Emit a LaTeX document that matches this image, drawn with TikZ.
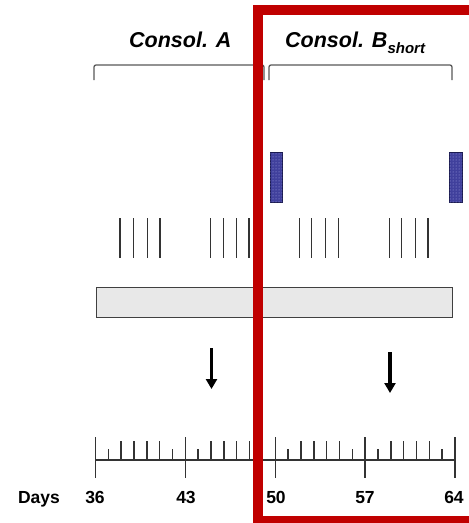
\documentclass[tikz,border=0pt]{standalone}
\usepackage{fontspec}
\setmainfont{Liberation Sans}
\usetikzlibrary{arrows.meta,patterns}
\definecolor{frame}{HTML}{C00000}
\definecolor{linegray}{HTML}{333333}
\definecolor{bargray}{HTML}{E8E8E8}
\definecolor{barline}{HTML}{404040}
\definecolor{bluefill}{HTML}{40409C}
\definecolor{blueline}{HTML}{1A1A50}
\definecolor{bluedot}{HTML}{A8A8E8}
\tikzset{
  titlefont/.style={font=\fontsize{21.5}{21.5}\selectfont\bfseries\itshape, inner sep=0pt},
  dayfont/.style={font=\fontsize{17.5}{17.5}\selectfont\bfseries, inner sep=0pt},
  bracket/.style={draw=gray!70!black, line width=1.3pt, rounded corners=2pt},
  pulse/.style={draw=linegray, line width=1.5pt},
  bluebar/.style={draw=blueline, line width=1pt, fill=bluefill, postaction={pattern=dots, pattern color=bluedot}},
  graybar/.style={draw=barline, line width=1.5pt, fill=bargray},
  axisline/.style={draw=linegray, line width=1.5pt},
  downarrow/.style={draw=black, line width=3.2pt, -{Triangle[length=10pt,width=11pt]}},
  redframe/.style={draw=frame, line width=9.5pt}
}
\begin{document}
\begin{tikzpicture}[x=1pt,y=-1pt]
\useasboundingbox (0,0) rectangle (469,523);
\clip (0,0) rectangle (469,523);
\fill[white] (0,0) rectangle (469,523);

% titles
\node[titlefont, anchor=base west] (ta) at (129,47) {Consol. A};
\node[titlefont, anchor=base west] (tb) at (285,47) {Consol. B\raisebox{-0.3em}{\fontsize{15}{15}\selectfont short}};

% brackets
\draw[bracket] (94,80) -- (94,65) -- (264,65) -- (264,80);
\draw[bracket] (269,80) -- (269,65) -- (452,65) -- (452,80);

% blue bars
\draw[bluebar] (270,152) rectangle (282,202);
\draw[bluebar] (449,152) rectangle (462,202);

% pulse groups
\foreach \x in {120,133.5,147.3,160,
                210.7,223.3,236.3,249,
                299.3,311.7,325.5,338.7,
                389.3,401.7,415.5,428} {
  \draw[pulse] (\x,218) -- (\x,258);
}

% gray bar
\draw[graybar] (96.7,287.7) rectangle (452.7,317.7);

% arrows
\coordinate (a1s) at (211.5,348);
\coordinate (a1e) at (211.5,389);
\coordinate (a2s) at (390,352);
\coordinate (a2e) at (390,393);
\draw[downarrow] (a1s) -- (a1e);
\draw[downarrow] (a2s) -- (a2e);

% axis
\draw[axisline] (95.5,460) -- (455,460);
\foreach \d in {36,43,50,57,64} {
  \draw[axisline] ({95.5+(\d-36)*12.84},437) -- ({95.5+(\d-36)*12.84},478);
}
\foreach \d in {38,39,40,41,45,46,47,48,52,53,54,55,59,60,61,62} {
  \draw[axisline] ({95.5+(\d-36)*12.84},441) -- ({95.5+(\d-36)*12.84},460);
}
\foreach \d in {37,42,44,49,51,56,58,63} {
  \draw[axisline] ({95.5+(\d-36)*12.84},449) -- ({95.5+(\d-36)*12.84},460);
}

% day labels
\node[dayfont, anchor=base] (days) at (39,503) {Days};
\node[dayfont, anchor=base] (d36) at (95,503) {36};
\node[dayfont, anchor=base] (d43) at (186,503) {43};
\node[dayfont, anchor=base] (d50) at (276,503) {50};
\node[dayfont, anchor=base] (d57) at (365,503) {57};
\node[dayfont, anchor=base] (d64) at (454,503) {64};

% red frame
\draw[redframe] (258,10) rectangle (474,521);
\end{tikzpicture}
\end{document}
